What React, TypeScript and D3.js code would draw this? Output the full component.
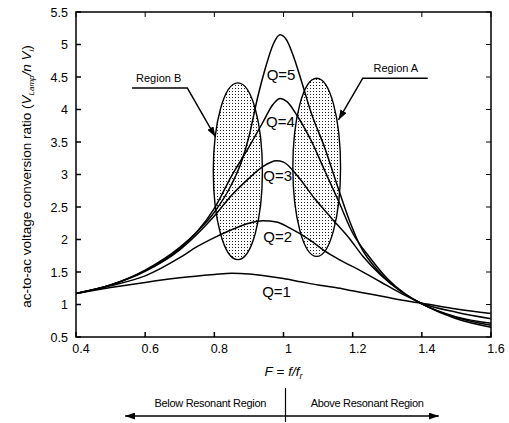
import React from 'react';
import * as d3 from 'd3';

// normalized frequency F = f/fr  vs  gain
const q1 = [[0.4,1.17],[0.5,1.26],[0.6,1.34],[0.7,1.41],[0.8,1.46],[0.85,1.48],[0.9,1.47],[0.95,1.44],[1.0,1.40],[1.05,1.35],[1.1,1.30],[1.15,1.26],[1.2,1.21],[1.25,1.16],[1.3,1.11],[1.35,1.06],[1.4,1.02],[1.5,0.93],[1.6,0.86]];
const q2 = [[0.4,1.17],[0.5,1.29],[0.6,1.44],[0.7,1.72],[0.75,1.89],[0.8,2.03],[0.85,2.15],[0.9,2.25],[0.94,2.29],[0.98,2.27],[1.02,2.17],[1.08,1.98],[1.12,1.82],[1.165,1.68],[1.22,1.53],[1.28,1.35],[1.34,1.17],[1.4,1.02],[1.5,0.88],[1.6,0.78]];
const q3 = [[0.4,1.17],[0.5,1.30],[0.6,1.51],[0.7,1.84],[0.75,2.08],[0.8,2.36],[0.85,2.68],[0.9,2.94],[0.94,3.12],[0.98,3.21],[1.0,3.19],[1.04,2.98],[1.09,2.63],[1.14,2.32],[1.19,2.02],[1.23,1.74],[1.28,1.46],[1.34,1.20],[1.4,1.01],[1.5,0.81],[1.6,0.71]];
const q4 = [[0.4,1.17],[0.5,1.30],[0.6,1.52],[0.7,1.86],[0.75,2.12],[0.8,2.48],[0.85,2.98],[0.9,3.42],[0.94,3.80],[0.97,4.08],[0.99,4.17],[1.01,4.12],[1.04,3.90],[1.08,3.52],[1.12,3.05],[1.16,2.58],[1.2,2.10],[1.25,1.72],[1.3,1.40],[1.35,1.17],[1.4,1.01],[1.5,0.80],[1.6,0.68]];
const q5 = [[0.4,1.17],[0.5,1.30],[0.6,1.53],[0.7,1.88],[0.75,2.12],[0.8,2.42],[0.85,2.85],[0.88,3.22],[0.9,3.58],[0.925,4.18],[0.95,4.68],[0.97,5.0],[0.99,5.15],[1.01,5.06],[1.03,4.80],[1.05,4.47],[1.08,3.95],[1.12,3.40],[1.15,2.92],[1.19,2.30],[1.22,1.92],[1.28,1.48],[1.34,1.20],[1.4,1.01],[1.5,0.78],[1.6,0.65]];

const series = [q1, q2, q3, q4, q5];
const qNames = ['Q=1', 'Q=2', 'Q=3', 'Q=4', 'Q=5'];
const qLabelAt = [[0.98,1.12],[0.983,1.96],[0.983,2.9],[0.991,3.73],[0.993,4.45]];

const xTicks = [0.4, 0.6, 0.8, 1, 1.2, 1.4, 1.6];
const yTicks = [0.5, 1, 1.5, 2, 2.5, 3, 3.5, 4, 4.5, 5, 5.5];

// shaded regions: [centre F, centre V, half width, half height]
const regionB = [0.868, 3.05, 0.071, 1.36];
const regionA = [1.096, 3.11, 0.069, 1.37];

// leader lines for the region callouts (data coords)
const leaderB = [[0.562, 4.33], [0.722, 4.33], [0.803, 3.58]];
const leaderA = [[1.417, 4.48], [1.229, 4.48], [1.159, 3.84]];

const W = 509, H = 423;
const L = 76, R = 491, T = 12, B = 337;

export default function App() {
  const x = d3.scaleLinear().domain([0.4, 1.6]).range([L, R]);
  const y = d3.scaleLinear().domain([0.5, 5.5]).range([B, T]);
  const line = d3.line<number[]>().x(d => x(d[0])).y(d => y(d[1])).curve(d3.curveMonotoneX);
  const lead = d3.line<number[]>().x(d => x(d[0])).y(d => y(d[1]));
  const font = 'Arial, "Liberation Sans", Helvetica, sans-serif';

  const ell = (r: number[], k: string) => (
    <ellipse key={k} cx={x(r[0])} cy={y(r[1])} rx={x(r[0] + r[2]) - x(r[0])} ry={y(r[1] - r[3]) - y(r[1])}
      fill="url(#dots)" stroke="#000" strokeWidth={1.4} />
  );

  const arrY = 416;
  const arrL = x(0.542), arrR = x(1.449);

  return (
    <svg width={W} height={H} style={{ position: 'absolute', left: 0, top: 0, background: '#fff' }} fontFamily={font}>
      <defs>
        <pattern id="dots" width={3} height={3} patternUnits="userSpaceOnUse">
          <rect width={3} height={3} fill="#fff" />
          <rect x={1} y={1} width={1} height={1} fill="#222" />
        </pattern>
        <marker id="ah" viewBox="0 0 10 7" refX={10} refY={3.5} markerWidth={10} markerHeight={7}
          markerUnits="userSpaceOnUse" orient="auto">
          <path d="M0,0 L10,3.5 L0,7 z" fill="#000" />
        </marker>
      </defs>

      {ell(regionB, 'b')}
      {ell(regionA, 'a')}

      {series.map((s, i) => (
        <path key={i} d={line(s) || ''} fill="none" stroke="#000" strokeWidth={1.5} />
      ))}

      {qNames.map((n, i) => (
        <text key={n} x={x(qLabelAt[i][0])} y={y(qLabelAt[i][1])} fontSize={15} textAnchor="middle">{n}</text>
      ))}

      {/* frame */}
      <rect x={L} y={T} width={R - L} height={B - T} fill="none" stroke="#000" strokeWidth={1.5} />
      {xTicks.map(t => (
        <g key={'x' + t}>
          <line x1={x(t)} x2={x(t)} y1={B} y2={B - 5} stroke="#000" strokeWidth={1.5} />
          <line x1={x(t)} x2={x(t)} y1={T} y2={T + 5} stroke="#000" strokeWidth={1} />
          <text x={x(t) + 5} y={353} fontSize={12.5} textAnchor="middle">{t === 1 ? '1' : t.toFixed(1)}</text>
        </g>
      ))}
      {yTicks.map(t => (
        <g key={'y' + t}>
          <line x1={L} x2={L + 5} y1={y(t)} y2={y(t)} stroke="#000" strokeWidth={1.5} />
          <line x1={R} x2={R - 5} y1={y(t)} y2={y(t)} stroke="#000" strokeWidth={1} />
          <text x={L - 8} y={y(t) + 4.5} fontSize={12.5} textAnchor="end">{Number.isInteger(t) ? String(t) : t.toFixed(1)}</text>
        </g>
      ))}

      {/* axis titles */}
      <text transform={`translate(31,${(T + B) / 2 + 2}) rotate(-90)`} fontSize={13.5} textAnchor="middle">
        ac-to-ac voltage conversion ratio (<tspan fontStyle="italic">V</tspan>
        <tspan fontSize={8} dy={3} fontStyle="italic">Lamp</tspan>
        <tspan dy={-3} fontStyle="italic">/n V</tspan>
        <tspan fontSize={8} dy={3} fontStyle="italic">i</tspan>
        <tspan dy={-3}>)</tspan>
      </text>
      <text x={x(1)} y={376} fontSize={13.5} textAnchor="middle">
        <tspan fontStyle="italic">F</tspan> = <tspan fontStyle="italic">f/f</tspan>
        <tspan fontSize={9} dy={3} fontStyle="italic">r</tspan>
      </text>

      {/* region callouts */}
      <text x={x(0.639)} y={y(4.42)} fontSize={11} textAnchor="middle">Region B</text>
      <path d={lead(leaderB) || ''} fill="none" stroke="#000" strokeWidth={1.4} markerEnd="url(#ah)" />
      <text x={x(1.325)} y={y(4.58)} fontSize={11} textAnchor="middle">Region A</text>
      <path d={lead(leaderA) || ''} fill="none" stroke="#000" strokeWidth={1.4} markerEnd="url(#ah)" />

      {/* resonant region arrows */}
      <text x={(arrL + x(1)) / 2 + 6} y={407} fontSize={11} textAnchor="middle" letterSpacing={-0.3}>Below Resonant Region</text>
      <text x={(arrR + x(1)) / 2 + 6} y={407} fontSize={11} textAnchor="middle" letterSpacing={-0.3}>Above Resonant Region</text>
      <line x1={x(1) + 2} x2={x(1) + 2} y1={388} y2={422} stroke="#000" strokeWidth={1.2} />
      <line x1={x(1)} x2={arrL} y1={arrY} y2={arrY} stroke="#000" strokeWidth={1.4} markerEnd="url(#ah)" />
      <line x1={x(1)} x2={arrR} y1={arrY} y2={arrY} stroke="#000" strokeWidth={1.4} markerEnd="url(#ah)" />
    </svg>
  );
}
